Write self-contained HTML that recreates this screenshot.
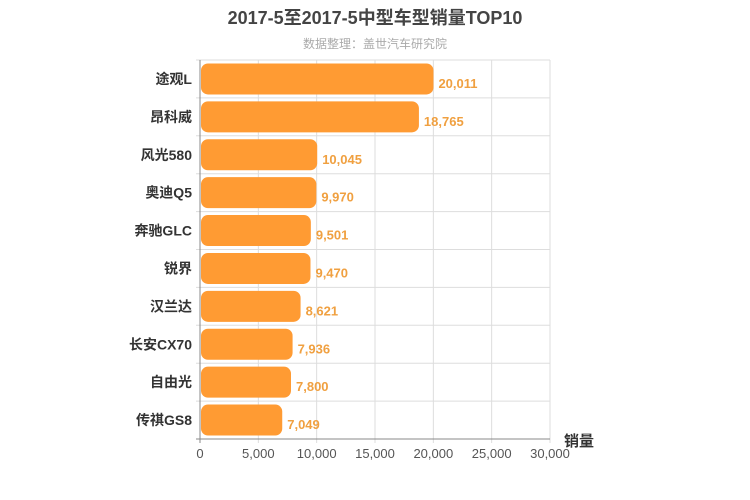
<!DOCTYPE html>
<html><head><meta charset="utf-8"><style>
body{margin:0;background:#fff;}
svg{display:block;font-family:"Liberation Sans","Noto Sans CJK SC",sans-serif;}
</style></head><body>
<svg id="c" width="750" height="500">
<text x="375" y="24" text-anchor="middle" font-size="18" font-weight="bold" fill="#444">2017-5至2017-5中型车型销量TOP10</text>
<text x="375" y="48" text-anchor="middle" font-size="12" fill="#aaa">数据整理：盖世汽车研究院</text>
<g id="g"></g>
</svg>
<script>
const categories=["途观L","昂科威","风光580","奥迪Q5","奔驰GLC","锐界","汉兰达","长安CX70","自由光","传祺GS8"];
const values=[20011,18765,10045,9970,9501,9470,8621,7936,7800,7049];
const ticks=[0,5000,10000,15000,20000,25000,30000];
const x0=200,x1=550,yTop=60,yBot=439,max=30000;
const xs=v=>x0+(x1-x0)*v/max;
const rowH=(yBot-yTop)/categories.length;
const g=document.getElementById('g');
const NS='http://www.w3.org/2000/svg';
function mk(t,a){const e=document.createElementNS(NS,t);for(const k in a)e.setAttribute(k,a[k]);g.appendChild(e);return e;}
ticks.forEach(t=>{
 const l=mk('line',{x1:xs(t),x2:xs(t),y1:yTop,y2:yBot+4,stroke:'#ddd'});
 
 
 const tx=mk('text',{x:xs(t),y:yBot+19,'text-anchor':'middle','font-size':13,fill:'#555'});
 tx.textContent=t.toLocaleString('en-US');
 
 
});
for(let i=0;i<=categories.length;i++){
 const y=yTop+i*rowH;
 const l=mk('line',{x1:x0-4,x2:x1,y1:y,y2:y,stroke:'#ddd'});
 
 
}
categories.forEach((c,i)=>{
 const yc=yTop+(i+0.5)*rowH;
 const r=mk('rect',{x:x0+1,y:yc-15.5,width:xs(values[i])-x0-1,height:31,rx:7,fill:'#ff9b33'});
 
 
 const lb=mk('text',{x:x0-8,y:yc+5,'text-anchor':'end','font-size':14,'font-weight':'bold',fill:'#333'});
 lb.textContent=c;
 
 
 const v=mk('text',{x:xs(values[i])+5,y:yc+9,'font-size':13,'font-weight':'bold',fill:'#f0a040'});
 v.textContent=values[i].toLocaleString('en-US');
 
 
});
const ax=mk('line',{x1:x0-4,x2:x1,y1:yBot,y2:yBot,stroke:'#888'});


const ay=mk('line',{x1:x0,x2:x0,y1:yTop,y2:yBot+4,stroke:'#888'});


const at=mk('text',{x:564,y:446,'font-size':15,'font-weight':'bold',fill:'#333'});
at.textContent='销量';


</script>
</body></html>
